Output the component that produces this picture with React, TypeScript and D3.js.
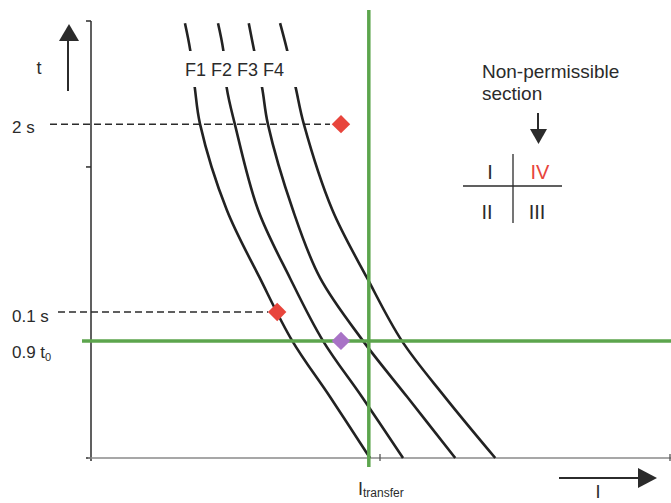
import * as d3 from "d3";
import React from "react";

// time levels shared by the four tripping curves (arbitrary units)
const tLevels = [9.95, 9.34, 8.47, 7.64, 5.68, 4.12, 2.68, 1.4, 0];
const curveNames = ["F1", "F2", "F3", "F4"];
const curveF1 = [1.62, 1.71, 1.79, 1.88, 2.34, 2.91, 3.47, 4.12, 4.81];
const curveF2 = [2.19, 2.28, 2.34, 2.48, 2.88, 3.43, 4.0, 4.67, 5.38];
const curveF3 = [2.72, 2.81, 2.95, 3.05, 3.48, 3.95, 4.69, 5.45, 6.28];
const curveF4 = [3.26, 3.38, 3.53, 3.67, 4.16, 4.76, 5.36, 6.1, 6.97];
const curves = [curveF1, curveF2, curveF3, curveF4];

const yTicks = [0, 6.66, 10];
const xTicks = [5, 10];

const t2s = 7.64;
const t01s = 3.34;
const t09t0 = 2.68;
const iTransfer = 4.79;

const markerI = [4.31, 3.21, 4.31];
const markerT = [7.64, 3.34, 2.68];
const markerColor = ["#e8453c", "#e8453c", "#a873c6"];

const W = 671;
const H = 503;
const FONT = "'Liberation Sans', Arial, Helvetica, sans-serif";
const GREEN = "#5ca54d";
const INK = "#2b2b2b";

const App = () => {
  const x = d3.scaleLinear().domain([0, 10]).range([91, 671]);
  const y = d3.scaleLinear().domain([0, 10]).range([458, 21]);

  const line = d3
    .line<[number, number]>()
    .x((d) => x(d[0]))
    .y((d) => y(d[1]))
    .curve(d3.curveCatmullRom.alpha(0.5));

  const diamond = d3.symbol().type(d3.symbolSquare).size(170)();

  return (
    <svg
      width={W}
      height={H}
      style={{ position: "absolute", left: 0, top: 0, background: "#fff" }}
      fontFamily={FONT}
    >
      {/* axes */}
      <line x1={x(0)} x2={x(0)} y1={y(10)} y2={y(0) + 3} stroke={INK} strokeWidth={1.5} />
      {yTicks.map((v) => (
        <line key={v} x1={x(0) - 5} x2={x(0)} y1={y(v)} y2={y(v)} stroke={INK} strokeWidth={1.5} />
      ))}
      <line x1={x(0) - 3} x2={x(10)} y1={y(0)} y2={y(0)} stroke="#8a8a8a" strokeWidth={1.5} />
      {xTicks.map((v) => (
        <line key={v} x1={x(v) - 1} x2={x(v) - 1} y1={y(0) - 4} y2={y(0) + 3} stroke="#555" strokeWidth={1.3} />
      ))}

      {/* dashed time levels */}
      <line x1={50} x2={x(markerI[0]) - 11} y1={y(t2s)} y2={y(t2s)} stroke={INK} strokeWidth={1.5} strokeDasharray="7 4" />
      <line x1={58} x2={x(markerI[1]) - 9} y1={y(t01s)} y2={y(t01s)} stroke={INK} strokeWidth={1.5} strokeDasharray="7 4" />

      {/* tripping curves */}
      {curves.map((c, i) => (
        <path
          key={curveNames[i]}
          d={line(c.map((v, k) => [v, tLevels[k]] as [number, number])) || ""}
          fill="none"
          stroke="#222"
          strokeWidth={2.6}
        />
      ))}
      <rect x={175} y={51} width={130} height={36} fill="#fff" />
      <text x={185} y={76} fontSize={18} fill={INK}>
        {curveNames.join(" ")}
      </text>

      {/* green limits */}
      <line x1={x(iTransfer)} x2={x(iTransfer)} y1={10} y2={467} stroke={GREEN} strokeWidth={3.5} />
      <line x1={82} x2={671} y1={y(t09t0)} y2={y(t09t0)} stroke={GREEN} strokeWidth={3.5} />

      {/* markers */}
      {markerI.map((v, i) => (
        <path
          key={i}
          d={diamond || ""}
          transform={`translate(${x(v)},${y(markerT[i])}) rotate(45)`}
          fill={markerColor[i]}
        />
      ))}

      {/* axis arrows */}
      <line x1={68} x2={68} y1={91} y2={38} stroke={INK} strokeWidth={2} />
      <path d="M69,24 L79,41 L59,41 Z" fill={INK} />
      <text x={39} y={74} fontSize={18} textAnchor="middle" fill={INK}>t</text>

      <line x1={559} x2={640} y1={478} y2={478} stroke={INK} strokeWidth={2} />
      <path d="M657,478 L638,468 L638,488 Z" fill={INK} />
      <text x={598} y={498} fontSize={18} textAnchor="middle" fill={INK}>I</text>

      {/* y labels */}
      <text x={12} y={133} fontSize={17} fill={INK}>2 s</text>
      <text x={12} y={322} fontSize={17} fill={INK}>0.1 s</text>
      <text x={12} y={358} fontSize={17} fill={INK}>
        0.9 t<tspan fontSize={11} dy={3}>0</tspan>
      </text>

      {/* x label */}
      <text x={358} y={495} fontSize={18} fill={INK}>
        I<tspan fontSize={12} dy={2}>transfer</tspan>
      </text>

      {/* section key */}
      <text x={482} y={78} fontSize={19} fill={INK}>Non-permissible</text>
      <text x={482} y={100} fontSize={19} fill={INK}>section</text>
      <line x1={538} x2={538} y1={113} y2={131} stroke={INK} strokeWidth={2} />
      <path d="M530,129 L547,129 L538.5,144 Z" fill={INK} />
      <line x1={463} x2={562} y1={186} y2={186} stroke={INK} strokeWidth={1.3} />
      <line x1={513} x2={513} y1={154} y2={223} stroke={INK} strokeWidth={1.3} />
      <text x={490} y={179} fontSize={20} textAnchor="middle" fill={INK}>I</text>
      <text x={540} y={179} fontSize={20} textAnchor="middle" fill="#e8453c">IV</text>
      <text x={487} y={219} fontSize={20} textAnchor="middle" fill={INK}>II</text>
      <text x={537} y={219} fontSize={20} textAnchor="middle" fill={INK}>III</text>
    </svg>
  );
};

export default App;
